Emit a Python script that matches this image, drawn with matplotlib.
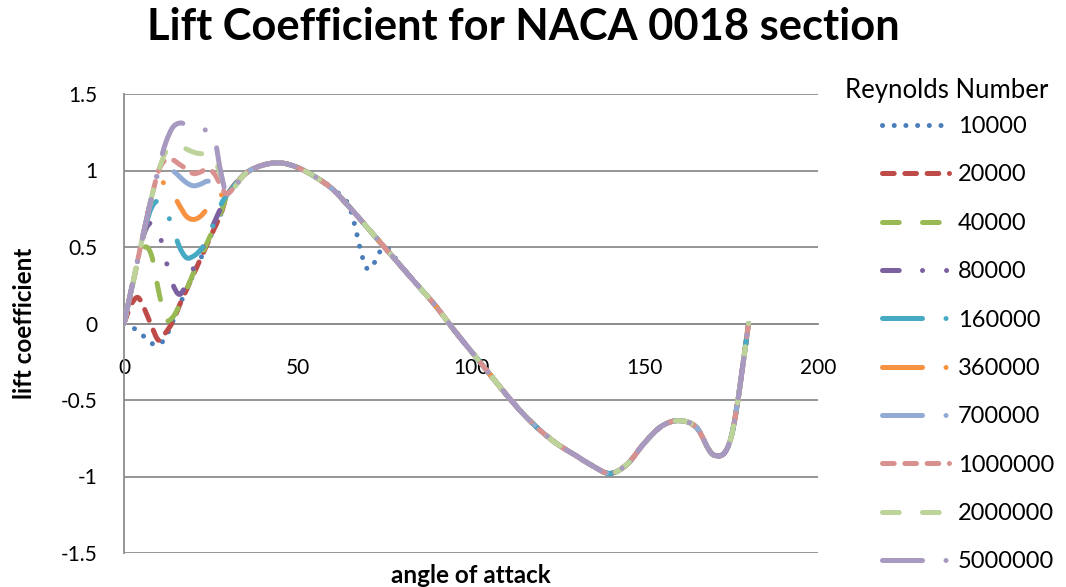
import numpy as np
import matplotlib
matplotlib.use("Agg")
import matplotlib.pyplot as plt
from matplotlib.path import Path
from matplotlib.patches import PathPatch
from matplotlib.lines import Line2D

plt.rcParams['font.family'] = ['Lato', 'DejaVu Sans']

# angles of attack (deg): pre-stall table, then the shared post-stall table
angle_low = [0, 2, 4, 6, 8, 10, 12, 14, 16, 18, 20, 22, 24, 26, 28]
angle_high = [30, 35, 40, 45, 50, 55, 60, 65, 70, 75, 80, 85, 90, 95, 100,
              105, 110, 115, 120, 125, 130, 135, 140, 145, 150, 155, 160,
              165, 170, 175, 180]

reynolds = ['10000', '20000', '40000', '80000', '160000', '360000',
            '700000', '1000000', '2000000', '5000000']

cl_10000 = [0, -0.02, -0.05, -0.09, -0.13, -0.14, -0.09, 0.01, 0.12, 0.22,
            0.32, 0.42, 0.52, 0.62, 0.72]
cl_20000 = [0, 0.12, 0.17, 0.09, -0.02, -0.11, -0.06, 0.01, 0.12, 0.22,
            0.32, 0.42, 0.52, 0.62, 0.72]
cl_40000 = [0, 0.20, 0.40, 0.50, 0.44, 0.21, 0.03, 0.04, 0.12, 0.22,
            0.33, 0.43, 0.53, 0.63, 0.73]
cl_80000 = [0, 0.21, 0.42, 0.60, 0.66, 0.60, 0.42, 0.26, 0.19, 0.26,
            0.36, 0.46, 0.56, 0.66, 0.76]
cl_160000 = [0, 0.21, 0.42, 0.62, 0.76, 0.80, 0.74, 0.63, 0.50, 0.43,
             0.44, 0.48, 0.55, 0.66, 0.78]
cl_360000 = [0, 0.21, 0.42, 0.63, 0.82, 0.92, 0.91, 0.85, 0.77, 0.70,
             0.68, 0.70, 0.75, 0.80, 0.84]
cl_700000 = [0, 0.21, 0.42, 0.63, 0.83, 0.99, 1.02, 1.00, 0.96, 0.92,
             0.90, 0.91, 0.93, 0.92, 0.88]
cl_1000000 = [0, 0.21, 0.42, 0.63, 0.83, 1.00, 1.07, 1.07, 1.04, 1.01,
              0.98, 0.99, 1.01, 0.98, 0.90]
cl_2000000 = [0, 0.21, 0.42, 0.63, 0.83, 1.00, 1.12, 1.16, 1.16, 1.14,
              1.12, 1.11, 1.11, 1.08, 0.96]
cl_5000000 = [0, 0.21, 0.42, 0.63, 0.83, 1.02, 1.18, 1.28, 1.31, 1.30,
              1.28, 1.27, 1.26, 1.22, 0.98]

# post-stall lift, identical for every Reynolds number
cl_high = [0.85, 0.98, 1.035, 1.05, 1.02, 0.96, 0.88, 0.76, 0.63, 0.50,
           0.37, 0.24, 0.11, -0.04, -0.18, -0.32, -0.46, -0.59, -0.70,
           -0.79, -0.86, -0.93, -0.98, -0.92, -0.78, -0.67, -0.635, -0.68,
           -0.86, -0.74, 0.0]
# Re = 10000 drops off at 70 deg
cl_10000_at_70 = 0.36

low_tables = [cl_10000, cl_20000, cl_40000, cl_80000, cl_160000, cl_360000,
              cl_700000, cl_1000000, cl_2000000, cl_5000000]

colors = ['#4A7EBB', '#BE4B48', '#98B954', '#7D60A0', '#46AAC5', '#F69240',
          '#91ABD4', '#D8918F', '#BCD39A', '#A899C0']

# dash patterns in units of line width
DOT = (0, (0.01, 2.33))
DASH = (0, (2.34, 2.12))
LONG_DASH = (0, (3.34, 4.66))
LONG_DASH_DOT_DOT = (0, (3.34, 4.66, 0.01, 4.8, 0.01, 4.66))
LONG_DASH_DOT = (0, (8.0, 4.7, 0.01, 4.7))
styles = [DOT, DASH, LONG_DASH, LONG_DASH_DOT_DOT, LONG_DASH_DOT,
          LONG_DASH_DOT, LONG_DASH_DOT, DASH, LONG_DASH, LONG_DASH_DOT]

LW = 3.6


def smooth_path(x, y):
    # smoothed line like a spreadsheet chart: cubic Bezier segments with
    # Catmull-Rom control points
    pts = np.column_stack([x, y]).astype(float)
    n = len(pts)
    verts = [pts[0]]
    codes = [Path.MOVETO]
    for i in range(n - 1):
        p0 = pts[i - 1] if i > 0 else pts[i]
        p1 = pts[i]
        p2 = pts[i + 1]
        p3 = pts[i + 2] if i + 2 < n else pts[i + 1]
        verts += [p1 + (p2 - p0) / 6, p2 - (p3 - p1) / 6, p2]
        codes += [Path.CURVE4] * 3
    return Path(verts, codes)


fig = plt.figure(figsize=(10.66, 5.87), dpi=100)
ax = fig.add_axes([124 / 1066, 1 - 553 / 587, 694 / 1066, 459 / 587])

angles = angle_low + angle_high
for i, low in enumerate(low_tables):
    cl = list(low) + list(cl_high)
    if reynolds[i] == '10000':
        cl[len(angle_low) + angle_high.index(70)] = cl_10000_at_70
    patch = PathPatch(smooth_path(angles, cl), fill=False,
                      edgecolor=colors[i], lw=LW, linestyle=styles[i],
                      capstyle='round', joinstyle='round', zorder=3 + i)
    ax.add_patch(patch)

ax.set_xlim(0, 200)
ax.set_ylim(-1.5, 1.5)
ax.set_xticks([0, 50, 100, 150, 200])
ax.set_xticklabels(['0', '50', '100', '150', '200'])
yticks = [-1.5, -1, -0.5, 0, 0.5, 1, 1.5]
ax.set_yticks(yticks)
ax.set_yticklabels(['-1.5', '-1', '-0.5', '0', '0.5', '1', '1.5'])

grid_color = '#8C8C8C'
for y in yticks:
    ax.axhline(y, color=grid_color, lw=1.3, zorder=1)
for side in ['top', 'right']:
    ax.spines[side].set_visible(False)
ax.spines['bottom'].set_position(('data', 0))
ax.spines['bottom'].set_color(grid_color)
ax.spines['bottom'].set_linewidth(1.3)
ax.spines['left'].set_color(grid_color)
ax.spines['left'].set_linewidth(1.3)
ax.tick_params(axis='x', length=0, pad=25, labelsize=15)
ax.tick_params(axis='y', length=0, pad=19, labelsize=15)

fig.text(0.491, 1 - 40 / 587, 'Lift Coefficient for NACA 0018 section',
         ha='center', va='baseline', fontsize=31.2, fontweight='bold')
fig.text(25 / 1066, 1 - 323 / 587, 'lift coefficient', rotation=90,
         ha='center', va='center', fontsize=17.5, fontweight='bold')
fig.text(471 / 1066, 1 - 583 / 587, 'angle of attack', ha='center',
         va='baseline', fontsize=17.5, fontweight='bold')

handles = [Line2D([], [], color=c, lw=LW, linestyle=s, dash_capstyle='round',
                  solid_capstyle='round') for c, s in zip(colors, styles)]
fig.text(845 / 1066, 1 - 98 / 587, 'Reynolds Number', ha='left',
         va='baseline', fontsize=18.5)
fig.legend(handles, reynolds, loc='upper left',
           bbox_to_anchor=(882 / 1066, 1 - 116 / 587), frameon=False,
           fontsize=17, handlelength=2.85, handletextpad=0.35,
           labelspacing=1.16, borderaxespad=0, borderpad=0)

fig.savefig('out.png', dpi=100)
